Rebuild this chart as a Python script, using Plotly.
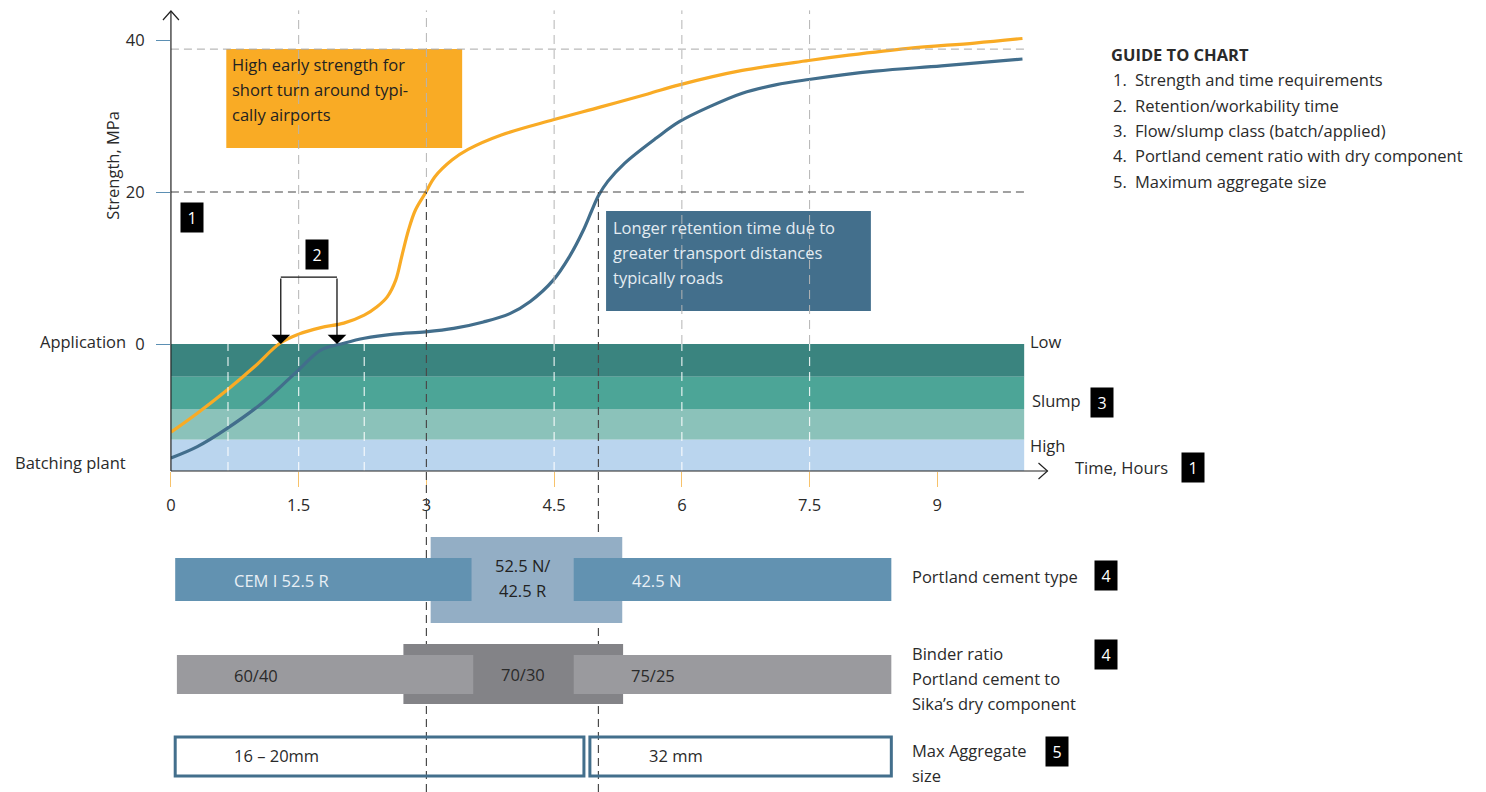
import plotly.graph_objects as go

W, H = 1486, 792

# ---------------- data ----------------
orange_t = [0, 0.31, 0.66, 0.98, 1.28, 1.5, 1.76, 2.03, 2.27, 2.42, 2.54, 2.64, 2.71, 2.79,
            2.87, 2.99, 3.10, 3.30, 3.49, 3.88, 4.49, 5.05, 5.6, 5.97, 6.71, 7.49, 7.96, 8.66, 9.44, 10.0]
orange_s = [-11.6, -9.1, -6.05, -3.0, 0.1, 1.3, 2.15, 2.75, 3.8, 4.9, 6.2, 8.4, 11.5, 15.0,
            17.6, 19.9, 22.0, 24.2, 25.6, 27.5, 29.5, 31.2, 32.9, 34.1, 36.0, 37.3, 38.0, 38.9, 39.6, 40.2]
blue_t = [0, 0.31, 0.66, 1.09, 1.5, 1.76, 2.03, 2.27, 2.62, 2.99, 3.32, 3.67, 3.98, 4.22,
          4.49, 4.68, 4.84, 4.94, 5.02, 5.13, 5.33, 5.70, 5.97, 6.32, 6.71, 7.10, 7.49, 8.27, 9.05, 10.0]
blue_s = [-15.0, -13.5, -11.1, -7.6, -3.4, -0.8, 0.1, 0.75, 1.3, 1.6, 2.05, 2.9, 4.0, 5.6,
          8.4, 11.5, 14.9, 17.5, 19.5, 21.4, 23.8, 27.1, 29.25, 31.2, 33.0, 34.1, 34.8, 35.9, 36.6, 37.5]

x_ticks = [0, 1.5, 3, 4.5, 6, 7.5, 9]
x_ticktext = ["0", "1.5", "3", "4.5", "6", "7.5", "9"]
y_ticks = [0, 20, 40]
y_ticktext = ["0", "20", "40"]

t_end = 10.02
target_strength = 20
upper_strength = 38.8
milestones = [3.0, 5.02]
grid_upper = [1.5, 3, 4.5, 6, 7.5]
grid_band = [0.67, 1.5, 2.27, 4.5, 6, 7.5]
slump_edges = [0, -4.3, -8.55, -12.6, -16.7]
slump_colors = ["#3A847F", "#4CA597", "#8BC2BA", "#BAD5EE"]
slump_labels = ["Low", "Slump", "High"]
retention_t = [1.29, 1.95]
bracket_top = 8.8

orange_box = dict(t0=0.65, t1=3.42, s0=25.8, s1=38.8)
orange_lines = ["High early strength for", "short turn around typi-", "cally airports"]
blue_box = dict(t0=5.11, t1=8.22, s0=4.34, s1=17.5)
blue_lines = ["Longer retention time due to", "greater transport distances", "typically roads"]

cement_mid = (3.05, 5.30)
cement_sides = [(0.05, 3.53, "CEM I 52.5 R"), (4.73, 8.46, "42.5 N")]
cement_mid_text = ["52.5 N/", "42.5 R"]
binder_mid = (2.73, 5.31)
binder_sides = [(0.07, 3.55, "60/40"), (4.73, 8.46, "75/25")]
binder_mid_text = "70/30"
agg_segments = [(0.05, 4.85, "16 – 20mm"), (4.92, 8.46, "32 mm")]

guide_title = "GUIDE TO CHART"
guide_items = ["Strength and time requirements", "Retention/workability time",
               "Flow/slump class (batch/applied)", "Portland cement ratio with dry component",
               "Maximum aggregate size"]

# ---------------- layout helpers ----------------
PX_PER_H = 85.44
X0_PX = 166.5
X1_PX = 1060
XMAX = (X1_PX - X0_PX) / PX_PER_H
PX_PER_MPA = 7.6
ZERO_PX = 344
YB_PX, YT_PX = 471, 5
YMIN = -(YB_PX - ZERO_PX) / PX_PER_MPA
YMAX = (ZERO_PX - YT_PX) / PX_PER_MPA
YDOM = [1 - YB_PX / H, 1 - YT_PX / H]
NUDGE = 3 / PX_PER_H  # compensate annotation padding for left-anchored text


def px(p):
    return p / W


def py(p):
    return 1 - p / H


def y2paper(v):
    return YDOM[0] + (v - YMIN) / (YMAX - YMIN) * (YDOM[1] - YDOM[0])


FONT = "Open Sans"
FS = 16.5
TXT = "#2a2a2a"
ORANGE = "#F9AB25"
BLUE = "#426E8C"
AXIS = "#222222"

fig = go.Figure()
shapes = []
ann = []

# slump bands
for i in range(4):
    shapes.append(dict(type="rect", xref="x", yref="y", x0=0, x1=t_end,
                       y0=slump_edges[i + 1], y1=slump_edges[i],
                       fillcolor=slump_colors[i], line_width=0, layer="below"))

# boxes in chart
shapes.append(dict(type="rect", xref="x", yref="y", x0=orange_box["t0"], x1=orange_box["t1"],
                   y0=orange_box["s0"], y1=orange_box["s1"], fillcolor=ORANGE, line_width=0, layer="below"))
shapes.append(dict(type="rect", xref="x", yref="y", x0=blue_box["t0"], x1=blue_box["t1"],
                   y0=blue_box["s0"], y1=blue_box["s1"], fillcolor="#436F8C", line_width=0, layer="below"))

# curves
fig.add_trace(go.Scatter(x=orange_t, y=orange_s, mode="lines",
                         line=dict(color=ORANGE, width=3.2, shape="spline", smoothing=1.0),
                         hoverinfo="skip"))
fig.add_trace(go.Scatter(x=blue_t, y=blue_s, mode="lines",
                         line=dict(color=BLUE, width=3.2, shape="spline", smoothing=1.0),
                         hoverinfo="skip"))

# grid dashes
for g in grid_upper:
    lo = target_strength if g in milestones else 0
    shapes.append(dict(type="line", xref="x", yref="y", x0=g, x1=g, y0=lo, y1=43.9,
                       line=dict(color="#B5B5B5", width=1, dash="9px,6px")))
for g in grid_band:
    shapes.append(dict(type="line", xref="x", yref="y", x0=g, x1=g, y0=YMIN, y1=0,
                       line=dict(color="rgba(255,255,255,0.85)", width=1.2, dash="9px,6px")))
shapes.append(dict(type="line", xref="x", yref="y", x0=0, x1=t_end, y0=upper_strength, y1=upper_strength,
                   line=dict(color="#A8A8A8", width=1, dash="8px,5px")))
shapes.append(dict(type="line", xref="x", yref="y", x0=0, x1=t_end, y0=target_strength, y1=target_strength,
                   line=dict(color="#444444", width=1.2, dash="8px,5px")))
for m in milestones:
    shapes.append(dict(type="line", xref="x", yref="paper", x0=m, x1=m, y0=0, y1=y2paper(target_strength),
                       line=dict(color="#4A4A4A", width=1.2, dash="8px,5px")))

# retention bracket
shapes.append(dict(type="line", xref="x", yref="y", x0=retention_t[0], x1=retention_t[1],
                   y0=bracket_top, y1=bracket_top, line=dict(color="#111", width=1.2)))
for r in retention_t:
    ann.append(dict(x=r, y=0, ax=r, ay=bracket_top, xref="x", yref="y", axref="x", ayref="y",
                    text="", showarrow=True, arrowhead=1, arrowsize=2.6, arrowwidth=1.2,
                    arrowcolor="#000", standoff=0))

# axis lines with open chevron heads (paper coords)
x_tip, y_tip = 1046, 11
shapes.append(dict(type="line", xref="paper", yref="paper", x0=px(X0_PX), x1=px(x_tip),
                   y0=py(YB_PX), y1=py(YB_PX), line=dict(color=AXIS, width=1.2)))
shapes.append(dict(type="line", xref="paper", yref="paper", x0=px(X0_PX), x1=px(X0_PX),
                   y0=py(YB_PX), y1=py(y_tip), line=dict(color=AXIS, width=1.2)))
shapes.append(dict(type="path", xref="paper", yref="paper",
                   path=f"M {px(x_tip - 9)},{py(YB_PX - 8)} L {px(x_tip)},{py(YB_PX)} L {px(x_tip - 9)},{py(YB_PX + 8)}",
                   line=dict(color=AXIS, width=1.2)))
shapes.append(dict(type="path", xref="paper", yref="paper",
                   path=f"M {px(X0_PX - 8)},{py(y_tip + 9)} L {px(X0_PX)},{py(y_tip)} L {px(X0_PX + 8)},{py(y_tip + 9)}",
                   line=dict(color=AXIS, width=1.2)))

# box texts
for i, line in enumerate(orange_lines):
    ann.append(dict(x=0.73 - NUDGE, y=(ZERO_PX - (65 + 25 * i)) / PX_PER_MPA, xref="x", yref="y", text=line,
                    showarrow=False, xanchor="left", yanchor="middle",
                    font=dict(family=FONT, size=FS, color="#222")))
for i, line in enumerate(blue_lines):
    ann.append(dict(x=5.2 - NUDGE, y=(ZERO_PX - (228 + 25 * i)) / PX_PER_MPA, xref="x", yref="y", text=line,
                    showarrow=False, xanchor="left", yanchor="middle",
                    font=dict(family=FONT, size=FS, color="#E4ECF2")))


def badge(xp, yp, label):
    ann.append(dict(x=px(xp), y=py(yp), xref="paper", yref="paper", text=label, showarrow=False,
                    xanchor="center", yanchor="middle", bgcolor="#000", width=22, height=29,
                    borderpad=0, font=dict(family=FONT, size=16, color="#fff")))


badge(188, 217, "1")
badge(313, 254, "2")
badge(1101, 402, "3")
badge(1192, 467, "1")
badge(1105, 575, "4")
badge(1105, 654, "4")
badge(1056, 751, "5")


def label(xp, yp, text, anchor="left", size=FS, color=TXT, bold=False):
    if anchor == "left":
        xp -= 3
    ann.append(dict(x=px(xp), y=py(yp), xref="paper", yref="paper",
                    text=f"<b>{text}</b>" if bold else text, showarrow=False,
                    xanchor=anchor, yanchor="middle", font=dict(family=FONT, size=size, color=color)))


label(123, 341, "Application", anchor="right")
label(123, 463, "Batching plant", anchor="right")
label(1029, 341, slump_labels[0])
label(1031, 400, slump_labels[1])
label(1029, 445, slump_labels[2])
label(1075, 467, "Time, Hours")
ann.append(dict(x=px(107), y=py(165), xref="paper", yref="paper", text="Strength, MPa", textangle=-90,
                xanchor="center", yanchor="middle",
                showarrow=False, font=dict(family=FONT, size=FS, color=TXT)))

label(1111, 55, guide_title, bold=True)
for i, item in enumerate(guide_items):
    label(1113, 80 + 25.3 * i, f"{i + 1}.")
    label(1135, 80 + 25.3 * i, item)

label(911, 576, "Portland cement type")
label(911, 653, "Binder ratio")
label(911, 678, "Portland cement to")
label(911, 703, "Sika’s dry component")
label(911, 750, "Max Aggregate")
label(911, 775, "size")

# lower rows
shapes.append(dict(type="rect", xref="x", yref="paper", x0=cement_mid[0], x1=cement_mid[1],
                   y0=py(623), y1=py(537), fillcolor="#93AEC5", line_width=0))
for a, b, t in cement_sides:
    shapes.append(dict(type="rect", xref="x", yref="paper", x0=a, x1=b, y0=py(601), y1=py(558),
                       fillcolor="#6292B1", line_width=0))
    ann.append(dict(x=a + 0.7 - NUDGE, y=py(580), xref="x", yref="paper", text=t, showarrow=False,
                    xanchor="left", yanchor="middle", font=dict(family=FONT, size=FS, color="#E8EFF5")))
for i, t in enumerate(cement_mid_text):
    ann.append(dict(x=(cement_sides[0][1] + cement_sides[1][0]) / 2, y=py(565 + 25 * i), xref="x", yref="paper",
                    text=t, showarrow=False, xanchor="center", yanchor="middle",
                    font=dict(family=FONT, size=FS, color="#222")))

shapes.append(dict(type="rect", xref="x", yref="paper", x0=binder_mid[0], x1=binder_mid[1],
                   y0=py(704), y1=py(644), fillcolor="#838387", line_width=0))
for a, b, t in binder_sides:
    shapes.append(dict(type="rect", xref="x", yref="paper", x0=a, x1=b, y0=py(694), y1=py(655),
                       fillcolor="#9A9A9E", line_width=0))
    ann.append(dict(x=a + 0.68 - NUDGE, y=py(675), xref="x", yref="paper", text=t, showarrow=False,
                    xanchor="left", yanchor="middle", font=dict(family=FONT, size=FS, color="#2a2a2a")))
ann.append(dict(x=(binder_sides[0][1] + binder_sides[1][0]) / 2, y=py(674), xref="x", yref="paper",
                text=binder_mid_text, showarrow=False, xanchor="center", yanchor="middle",
                font=dict(family=FONT, size=FS, color="#2a2a2a")))

for a, b, t in agg_segments:
    shapes.append(dict(type="rect", xref="x", yref="paper", x0=a, x1=b, y0=py(776), y1=py(737),
                       fillcolor="rgba(0,0,0,0)", line=dict(color="#436F8C", width=3)))
    ann.append(dict(x=a + 0.7 - NUDGE, y=py(755), xref="x", yref="paper", text=t, showarrow=False,
                    xanchor="left", yanchor="middle", font=dict(family=FONT, size=FS, color="#2a2a2a")))

fig.update_layout(
    width=W, height=H, margin=dict(l=0, r=0, t=0, b=0),
    paper_bgcolor="white", plot_bgcolor="white", showlegend=False,
    shapes=shapes, annotations=ann,
    xaxis=dict(domain=[X0_PX / W, X1_PX / W], range=[0, XMAX], showgrid=False, zeroline=False,
               showline=False, tickvals=x_ticks, ticktext=x_ticktext, ticks="outside", ticklen=15,
               tickcolor="#F7C26B", tickwidth=1, ticklabelstandoff=4,
               tickfont=dict(family=FONT, size=FS, color=TXT), fixedrange=True),
    yaxis=dict(domain=YDOM, range=[YMIN, YMAX], showgrid=False, zeroline=False, showline=False,
               tickvals=y_ticks, ticktext=y_ticktext, ticks="outside", ticklen=14,
               tickcolor="#5B8FB3", tickwidth=1, ticklabelstandoff=8,
               tickfont=dict(family=FONT, size=FS, color=TXT), fixedrange=True),
)

fig.write_html("out.html", config={"displayModeBar": False},
               post_script="document.body.style.margin='0px';document.body.style.overflow='hidden';")
